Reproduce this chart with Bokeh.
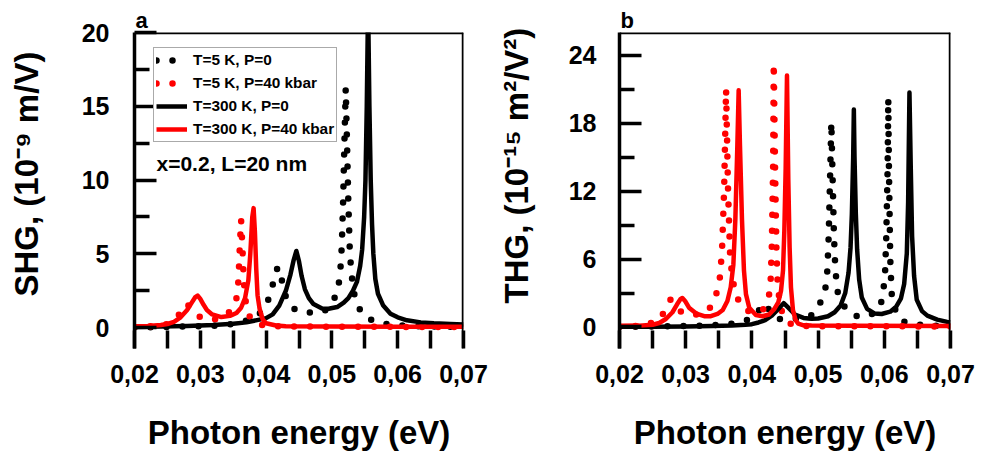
from bokeh.plotting import figure
from bokeh.layouts import row
from bokeh.models import (Range1d, FixedTicker, CustomJSTickFormatter, Span, Label,
                          Legend, LegendItem, Title)
from bokeh.embed import file_html
from bokeh.resources import INLINE
from bokeh.core.properties import value

# ---------------- data ----------------
x_ticks = [0.02, 0.03, 0.04, 0.05, 0.06, 0.07]
x_tick_labels = ["0,02", "0,03", "0,04", "0,05", "0,06", "0,07"]
x_minor_ticks = [0.025, 0.035, 0.045, 0.055, 0.065]
shg_ticks = [0, 5, 10, 15, 20]
shg_minor_ticks = [2.5, 7.5, 12.5, 17.5]
thg_ticks = [0, 6, 12, 18, 24]
thg_minor_ticks = [3, 9, 15, 21]

series_labels = ["T=5 K, P=0", "T=5 K, P=40 kbar", "T=300 K, P=0", "T=300 K, P=40 kbar"]

# Panel a: SHG (10^-9 m/V)
shg_5k_p0_x = [0.020, 0.025, 0.030, 0.033, 0.035, 0.0365, 0.038, 0.039, 0.040, 0.0405,
               0.041, 0.0414, 0.0418, 0.0422, 0.0426, 0.043, 0.0435, 0.0445, 0.046, 0.0475,
               0.0488, 0.0498, 0.0506, 0.051, 0.0513, 0.0515, 0.0517, 0.0519, 0.0521, 0.0523,
               0.0525, 0.0527, 0.0529, 0.0532, 0.0536, 0.0546, 0.0561, 0.0579, 0.060, 0.065, 0.070]
shg_5k_p0_y = [0.02, 0.05, 0.10, 0.15, 0.25, 0.40, 0.65, 0.95, 1.5, 2.1,
               2.9, 3.7, 4.1, 3.6, 2.8, 2.1, 1.6, 1.2, 1.05, 1.0,
               1.1, 1.5, 2.2, 2.8, 4.0, 5.5, 8.5, 12.5, 16.2, 12.5,
               8.5, 5.5, 4.0, 2.8, 1.8, 0.94, 0.5, 0.27, 0.15, 0.08, 0.05]

shg_5k_p40_x = [0.020, 0.022, 0.024, 0.025, 0.0257, 0.0265, 0.027, 0.0275, 0.0278, 0.0282,
                0.0288, 0.0293, 0.030, 0.031, 0.032, 0.033, 0.034, 0.035, 0.0355, 0.0358,
                0.036, 0.0362, 0.0364, 0.0366, 0.0369, 0.0373, 0.038, 0.039, 0.041, 0.050, 0.070]
shg_5k_p40_y = [0.05, 0.08, 0.15, 0.25, 0.42, 0.7, 1.05, 1.5, 1.6, 1.5,
                1.2, 1.0, 0.7, 0.55, 0.55, 0.65, 0.85, 1.4, 2.0, 3.2,
                5.5, 7.3, 5.5, 3.2, 1.8, 0.9, 0.4, 0.2, 0.1, 0.06, 0.05]

shg_300k_p0_x = [0.020, 0.024, 0.028, 0.032, 0.035, 0.037, 0.038, 0.039, 0.040, 0.041,
                 0.042, 0.043, 0.0437, 0.0442, 0.0446, 0.045, 0.0454, 0.0459, 0.0465, 0.0472,
                 0.0485, 0.0495, 0.0508, 0.0518, 0.0525, 0.0532, 0.0538, 0.0543, 0.0546, 0.0549,
                 0.0551, 0.0553, 0.0555, 0.0557, 0.0559, 0.0561, 0.0563, 0.0566, 0.057, 0.0578,
                 0.0589, 0.060, 0.0614, 0.0635, 0.0655, 0.068, 0.070]
shg_300k_p0_y = [0.05, 0.08, 0.12, 0.18, 0.26, 0.36, 0.45, 0.55, 0.65, 0.9,
                 1.5, 2.5, 3.6, 4.6, 5.2, 4.5, 3.5, 2.6, 2.0, 1.6,
                 1.3, 1.28, 1.4, 1.7, 2.0, 2.5, 3.1, 4.2, 5.3, 7.5,
                 10.0, 15.0, 22.0, 15.0, 10.0, 7.0, 5.0, 3.3, 2.3, 1.5,
                 0.95, 0.7, 0.5, 0.36, 0.3, 0.25, 0.22]

shg_300k_p40_x = [0.020, 0.022, 0.024, 0.025, 0.026, 0.027, 0.028, 0.0287, 0.0292, 0.0296,
                  0.030, 0.0305, 0.031, 0.0318, 0.0332, 0.0345, 0.0355, 0.0362, 0.0368, 0.0373,
                  0.0376, 0.0379, 0.0381, 0.0383, 0.0385, 0.0387, 0.039, 0.0395, 0.040, 0.0415,
                  0.043, 0.050, 0.060, 0.070]
shg_300k_p40_y = [0.1, 0.12, 0.18, 0.25, 0.4, 0.7, 1.2, 1.7, 2.05, 2.18,
                  1.95, 1.55, 1.2, 0.9, 0.72, 0.8, 1.0, 1.35, 2.0, 3.2,
                  5.0, 7.5, 8.1, 6.5, 4.0, 2.2, 1.3, 0.55, 0.3, 0.15,
                  0.1, 0.08, 0.07, 0.07]

# Panel b: THG (10^-15 m^2/V^2)
thg_5k_p0_x = [0.020, 0.025, 0.030, 0.034, 0.037, 0.039, 0.0403, 0.041, 0.0415, 0.0419,
               0.0424, 0.043, 0.0438, 0.045, 0.047, 0.0488, 0.0498, 0.0506, 0.0511, 0.0514,
               0.0516, 0.0518, 0.052, 0.0522, 0.0524, 0.0526, 0.0529, 0.0534, 0.0546, 0.0561,
               0.0579, 0.0592, 0.0597, 0.0601, 0.0603, 0.0605, 0.0606, 0.0607, 0.0609, 0.0611,
               0.0614, 0.0627, 0.0645, 0.067, 0.070]
thg_5k_p0_y = [0.02, 0.04, 0.08, 0.15, 0.3, 0.55, 0.9, 1.4, 1.9, 2.1,
               1.7, 1.1, 0.75, 0.65, 0.75, 0.95, 1.45, 2.5, 3.4, 5.0,
               8.0, 13.0, 18.1, 13.0, 8.0, 5.2, 3.2, 2.3, 1.3, 0.9,
               1.05, 1.6, 2.5, 4.5, 8.0, 14.0, 20.2, 14.0, 6.0, 3.0,
               1.8, 0.5, 0.25, 0.12, 0.08]

thg_5k_p40_x = [0.020, 0.022, 0.024, 0.0245, 0.026, 0.0269, 0.0274, 0.0277, 0.0281, 0.0288,
                0.0295, 0.031, 0.0325, 0.0335, 0.0342, 0.0348, 0.0352, 0.0355, 0.0358, 0.0361,
                0.0364, 0.0367, 0.037, 0.0375, 0.0381, 0.039, 0.040, 0.041, 0.0418, 0.0425,
                0.0428, 0.043, 0.0432, 0.0433, 0.0435, 0.0437, 0.0439, 0.0443, 0.0448, 0.0458,
                0.047, 0.050, 0.070]
thg_5k_p40_y = [0.03, 0.06, 0.15, 0.3, 0.6, 1.5, 2.1, 2.4, 2.1, 1.5,
                1.3, 1.05, 1.2, 1.5, 2.35, 3.2, 4.5, 7.0, 12.0, 21.0,
                12.0, 6.5, 4.5, 3.0, 2.2, 1.5, 1.3, 1.3, 1.6, 2.5,
                3.6, 7.0, 14.0, 23.3, 14.0, 7.0, 3.6, 1.8, 0.9, 0.3,
                0.1, 0.06, 0.05]

thg_300k_p0_x = [0.020, 0.025, 0.030, 0.034, 0.037, 0.039, 0.040, 0.041, 0.042, 0.043,
                 0.044, 0.0448, 0.0455, 0.0465, 0.0478, 0.049, 0.050, 0.0515, 0.0525, 0.0534,
                 0.0541, 0.0546, 0.0549, 0.0551, 0.0553, 0.0554, 0.0555, 0.0557, 0.0559, 0.0562,
                 0.0566, 0.0574, 0.0585, 0.0596, 0.0609, 0.0618, 0.0625, 0.063, 0.0634, 0.0636,
                 0.0638, 0.064, 0.0642, 0.0645, 0.0649, 0.0657, 0.0665, 0.068, 0.0695, 0.070]
thg_300k_p0_y = [0.02, 0.03, 0.05, 0.08, 0.13, 0.2, 0.25, 0.4, 0.6, 1.0,
                 1.6, 2.1, 1.7, 1.1, 0.8, 0.72, 0.75, 0.95, 1.3, 1.9,
                 3.0, 4.8, 7.0, 10.0, 15.0, 19.2, 15.0, 10.0, 6.8, 4.2,
                 2.6, 1.6, 1.2, 1.15, 1.35, 1.8, 2.5, 3.8, 6.5, 11.0,
                 20.7, 14.0, 8.0, 4.5, 2.4, 1.4, 1.0, 0.65, 0.45, 0.42]

thg_300k_p40_x = [0.020, 0.023, 0.025, 0.026, 0.027, 0.028, 0.0287, 0.0292, 0.0295, 0.0299,
                  0.0305, 0.0316, 0.0328, 0.0338, 0.0348, 0.0356, 0.0363, 0.0368, 0.0372, 0.0375,
                  0.0378, 0.038, 0.0382, 0.0385, 0.0388, 0.0391, 0.0396, 0.0406, 0.0416, 0.0426,
                  0.0434, 0.044, 0.0444, 0.0447, 0.0449, 0.0451, 0.0453, 0.0455, 0.0457, 0.0459,
                  0.0462, 0.0466, 0.047, 0.0478, 0.049, 0.055, 0.070]
thg_300k_p40_y = [0.1, 0.12, 0.2, 0.35, 0.7, 1.3, 2.0, 2.45, 2.56, 2.3,
                  1.7, 1.18, 0.95, 0.95, 1.15, 1.5, 2.3, 3.5, 5.5, 9.5,
                  16.0, 20.9, 16.0, 9.5, 5.0, 2.9, 1.7, 1.05, 0.95, 1.1,
                  1.6, 2.2, 3.2, 5.0, 8.5, 14.0, 22.2, 13.0, 7.0, 3.5,
                  1.5, 0.6, 0.3, 0.15, 0.12, 0.1, 0.08]

# ---------------- styling ----------------
FONT = "Liberation Sans"
BLACK = "#000000"
RED = "#ff0000"
X_START, X_END = 0.02, 0.07
FRAME_W = 3.5
HEIGHT = 453


def make_panel(width, border_left, border_right, shift, y_start, y_end, y_ticks, y_minor,
               series, ylabel, ylabel_offset, ylabel_standoff, letter, tick_standoff,
               legend_pos=None, note=None, transparent_border=False):
    p = figure(width=width, height=HEIGHT, title=None,
               x_range=Range1d(X_START, X_END), y_range=Range1d(y_start, y_end),
               output_backend="svg", toolbar_location=None,
               min_border_left=border_left, min_border_right=border_right,
               min_border_top=32, min_border_bottom=103)
    # pull the (blank) outer part of the left border off to the left
    p.margin = (0, 0, 0, -shift)
    p.outline_line_color = None
    p.grid.visible = False
    p.background_fill_color = "white"
    p.border_fill_color = "white"
    if transparent_border:
        # let the neighbouring panel show through the blank overlapping border
        p.border_fill_alpha = 0.0

    renderers = []
    for xs, ys, color, dotted in series:
        if dotted:
            r = p.line(xs, ys, line_color=color, line_width=6.5, line_dash="0 16",
                       line_cap="round", line_join="round")
        else:
            r = p.line(xs, ys, line_color=color, line_width=4.5, line_join="round")
        renderers.append(r)

    fmt = CustomJSTickFormatter(args=dict(xt=x_ticks, xl=x_tick_labels), code="""
        for (let i = 0; i < xt.length; i++) {
            if (Math.abs(tick - xt[i]) < 1e-9) { return xl[i]; }
        }
        return "";
    """)
    xa = p.xaxis[0]
    xa.ticker = FixedTicker(ticks=x_ticks, minor_ticks=x_minor_ticks)
    xa.formatter = fmt
    xa.axis_line_color = None
    xa.major_tick_in = 18
    xa.major_tick_out = 0
    xa.minor_tick_in = 18
    xa.minor_tick_out = 0
    xa.major_tick_line_width = FRAME_W
    xa.minor_tick_line_width = FRAME_W
    xa.major_tick_line_color = BLACK
    xa.minor_tick_line_color = BLACK
    xa.major_label_text_font = FONT
    xa.major_label_text_font_style = "bold"
    xa.major_label_text_font_size = "25px"
    xa.major_label_text_line_height = 1.0
    xa.major_label_text_color = BLACK
    xa.major_label_standoff = 16
    xa.axis_label = "Photon energy (eV)"
    xa.axis_label_text_font = FONT
    xa.axis_label_text_font_style = "bold"
    xa.axis_label_text_font_size = "33px"
    xa.axis_label_text_line_height = 1.0
    xa.axis_label_text_color = BLACK
    xa.axis_label_standoff = 28

    ya = p.yaxis[0]
    ya.ticker = FixedTicker(ticks=y_ticks, minor_ticks=y_minor)
    ya.axis_line_color = BLACK
    ya.axis_line_width = FRAME_W
    ya.major_tick_in = 22
    ya.major_tick_out = 0
    ya.minor_tick_in = 15
    ya.minor_tick_out = 0
    ya.major_tick_line_width = FRAME_W
    ya.minor_tick_line_width = FRAME_W
    ya.major_tick_line_color = BLACK
    ya.minor_tick_line_color = BLACK
    ya.major_label_text_font = FONT
    ya.major_label_text_font_style = "bold"
    ya.major_label_text_font_size = "25px"
    ya.major_label_text_color = BLACK
    ya.major_label_standoff = tick_standoff

    # top and right frame lines (no bottom line in the original)
    p.add_layout(Span(location=y_end, dimension="width", line_color=BLACK, line_width=FRAME_W))
    p.add_layout(Span(location=X_END, dimension="height", line_color=BLACK, line_width=FRAME_W))

    # y-axis title (shifted upwards like the original)
    p.add_layout(Title(text=ylabel, align="left", offset=ylabel_offset, standoff=ylabel_standoff,
                       text_font=FONT, text_font_style="bold", text_font_size="33px",
                       text_color=BLACK), "left")
    # panel letter
    p.add_layout(Title(text=letter, align="left", offset=1, standoff=0,
                       text_font=FONT, text_font_style="bold", text_font_size="22px",
                       text_color=BLACK), "above")

    if note is not None:
        p.add_layout(Label(x=22, y=185, x_units="screen", y_units="screen", text=note,
                           text_align="left", text_baseline="middle",
                           text_font=FONT, text_font_style="bold", text_font_size="21px",
                           text_color=BLACK))

    if legend_pos is not None:
        items = [LegendItem(label=value(lbl), renderers=[r]) for lbl, r in zip(series_labels, renderers)]
        legend = Legend(items=items, location=legend_pos, margin=0, padding=2, spacing=3,
                        glyph_width=31, glyph_height=20, label_height=20, label_standoff=6,
                        label_text_font=FONT, label_text_font_style="bold",
                        label_text_font_size="15.4px", label_text_color=BLACK,
                        border_line_color="#555555", border_line_width=1,
                        background_fill_color="white", background_fill_alpha=1.0)
        p.add_layout(legend)
    return p


shg_series = [
    (shg_5k_p0_x, shg_5k_p0_y, BLACK, True),
    (shg_5k_p40_x, shg_5k_p40_y, RED, True),
    (shg_300k_p0_x, shg_300k_p0_y, BLACK, False),
    (shg_300k_p40_x, shg_300k_p40_y, RED, False),
]
thg_series = [
    (thg_5k_p0_x, thg_5k_p0_y, BLACK, True),
    (thg_5k_p40_x, thg_5k_p40_y, RED, True),
    (thg_300k_p0_x, thg_300k_p0_y, BLACK, False),
    (thg_300k_p40_x, thg_300k_p40_y, RED, False),
]

p1 = make_panel(525, 166, 30, 32, -1.41, 20, shg_ticks, shg_minor_ticks, shg_series,
                "SHG, (10\u207b\u2079 m/V)", 52, 68, "a", 25,
                legend_pos=(19, 206), note="x=0.2, L=20 nm")
p2 = make_panel(531, 163, 37, 37, -1.9, 26, thg_ticks, thg_minor_ticks, thg_series,
                "THG, (10\u207b\u00b9\u2075 m\u00b2/V\u00b2)", 45, 62, "b", 23,
                transparent_border=True)

layout = row(p1, p2)
open("out.html", "w").write(file_html(layout, INLINE))
